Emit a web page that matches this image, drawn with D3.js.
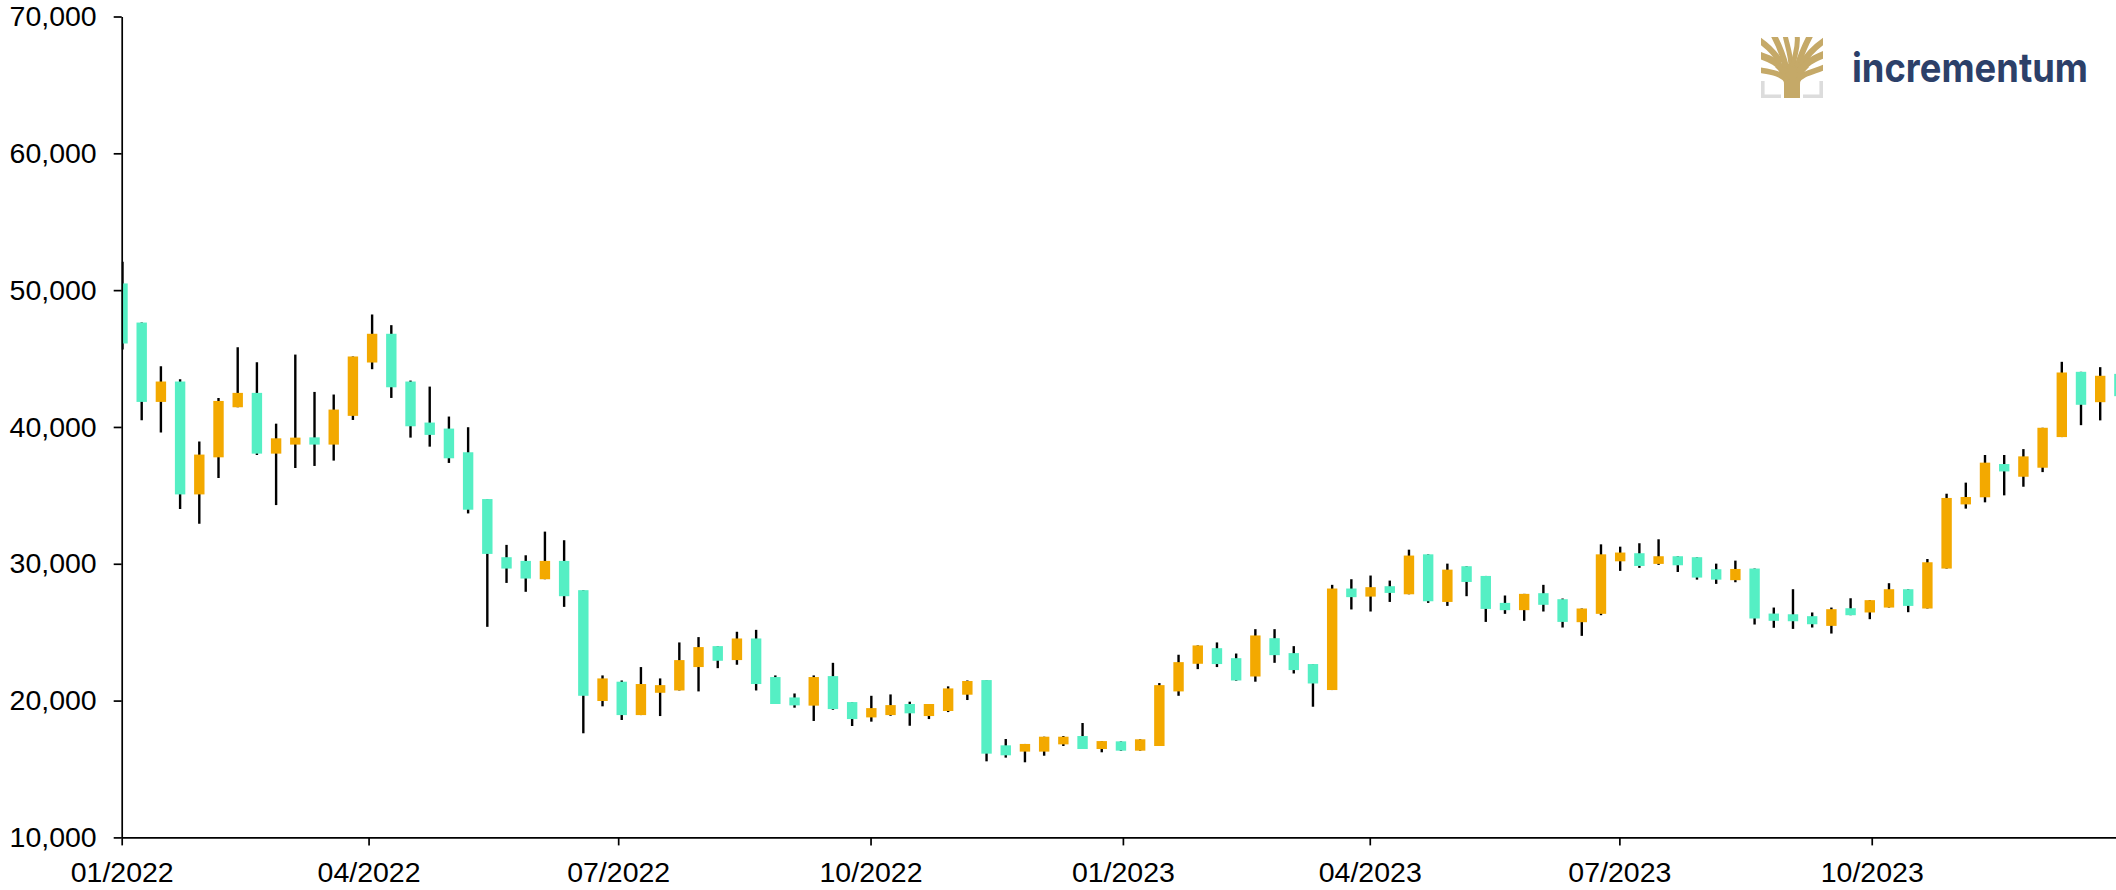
<!DOCTYPE html>
<html>
<head>
<meta charset="utf-8">
<title>Candlestick chart</title>
<script src="https://cdn.jsdelivr.net/npm/d3@7"></script>
<style>
  html, body { margin: 0; padding: 0; background: #fff; overflow: hidden; }
  text { font-family: "Liberation Sans", Arial, sans-serif; fill: #000; }
</style>
</head>
<body>
<div id="chart"></div>
<script>
// weekly candles, values
const opens = [
  50490, 47630, 41830, 43320, 35070, 37780, 41440, 42490, 38050, 38710,
  39240, 38710, 40810, 44710, 46810, 43320, 40320, 39880, 38150, 34730,
  30480, 30210, 28870, 30210, 28070, 19970, 21380, 18940, 20570, 20740,
  22450, 23980, 22960, 24540, 21720, 20230, 19630, 21790, 19890, 18770,
  18940, 19750, 18870, 19240, 20430, 21500, 16730, 16270, 16270, 16800,
  17410, 16460, 17020, 16340, 16680, 20670, 22690, 23830, 23100, 21760,
  24560, 23470, 22670, 20770, 28190, 27600, 28360, 27770, 30690, 27210,
  29820, 29110, 27140, 26610, 27850, 27410, 25730, 26340, 30180, 30770,
  29990, 30550, 30480, 29600, 28800, 29650, 26360, 26310, 26170, 25460,
  26750, 26440, 26800, 28140, 26730, 29650, 34340, 34860, 37290, 36360,
  37020, 39260, 44030, 41810, 43880
];
const closes = [
  46100, 41830, 43320, 35070, 37980, 41900, 42490, 38050, 39170, 39220,
  38710, 41270, 45150, 46810, 42900, 40050, 39420, 37710, 33950, 30720,
  29650, 28920, 30210, 27630, 20350, 21620, 18940, 21210, 21130, 22960,
  23910, 22910, 24540, 21210, 19750, 19650, 21720, 19380, 18650, 19450,
  19670, 19070, 19750, 20890, 21430, 16120, 16000, 16830, 17360, 17360,
  16460, 17040, 16340, 17170, 21130, 22810, 24030, 22670, 21470, 24760,
  23320, 22230, 21250, 28190, 27560, 28290, 27870, 30600, 27260, 29570,
  28670, 26700, 26610, 27800, 27000, 25750, 26730, 30690, 30820, 29840,
  30550, 29890, 28990, 28840, 29620, 26000, 25830, 25800, 25580, 26680,
  26240, 27340, 28140, 26920, 30110, 34810, 34880, 37390, 36750, 37850,
  39940, 43980, 41620, 43740, 42250
];
const highs = [
  52070, 47630, 44440, 43490, 38930, 42120, 45830, 44730, 40240, 45290,
  42560, 42370, 45150, 48220, 47440, 43390, 42950, 40760, 39980, 34730,
  31380, 30620, 32350, 31720, 28070, 21840, 21470, 22450, 21620, 24250,
  24640, 23980, 25030, 25170, 21840, 20520, 21840, 22760, 19890, 20350,
  20450, 19920, 19750, 21040, 21470, 21500, 17190, 16830, 17360, 17410,
  18360, 17040, 17020, 17170, 21280, 23350, 24030, 24250, 23440, 25220,
  25220, 23980, 22670, 28460, 28870, 29140, 28770, 31030, 30690, 30010,
  29820, 29110, 27680, 27800, 28460, 27460, 26730, 31420, 31250, 31500,
  31790, 30550, 30480, 30010, 30230, 29650, 26800, 28140, 26440, 26800,
  27480, 27340, 28580, 28140, 30350, 35120, 35930, 37950, 37950, 38380,
  39940, 44760, 44030, 44370, 43880
];
const lows = [
  45660, 40490, 39590, 34000, 32930, 36270, 41440, 37950, 34290, 37000,
  37150, 37540, 40510, 44220, 42120, 39220, 38560, 37370, 33680, 25390,
  28600, 27950, 28870, 26850, 17610, 19580, 18580, 18940, 18870, 20740,
  20670, 22370, 22620, 20740, 19750, 19480, 18510, 19330, 18140, 18460,
  18890, 18160, 18650, 19160, 20040, 15560, 15830, 15490, 15970, 16680,
  16460, 16220, 16320, 16340, 16680, 20350, 22300, 22450, 21450, 21380,
  22760, 21980, 19550, 20770, 26660, 26510, 27210, 27770, 27140, 26920,
  27630, 25750, 26340, 25830, 26510, 25340, 24730, 26240, 29480, 29700,
  29920, 29400, 28840, 28530, 28650, 25560, 25320, 25240, 25340, 24900,
  26240, 25950, 26800, 26460, 26730, 29650, 34030, 34490, 35000, 35630,
  36700, 39260, 40130, 40480, 42250
];
const yTicks = [10000, 20000, 30000, 40000, 50000, 60000, 70000];
const xTicks = ['2022-01-01', '2022-04-01', '2022-07-01', '2022-10-01', '2023-01-01', '2023-04-01', '2023-07-01', '2023-10-01'];

const width = 2116;
const height = 890;
const left = 121.7;
const top_ = 16.5;
const bottom = 837.4;
const candleShift = 0.8;
const green = '#55efc4';
const orange = '#f3a900';

const parseDay = d3.utcParse('%Y-%m-%d');
const firstDay = parseDay(xTicks[0]);
const weeks = d3.utcDay.range(firstDay, parseDay('2024-01-08'), 7);

const x = d3.scaleUtc()
  .domain([firstDay, parseDay('2024-01-01')])
  .range([left, left + 2.743 * 730]);
const y = d3.scaleLinear()
  .domain([10000, 70000])
  .range([bottom, top_]);

const svg = d3.select('#chart')
  .append('svg')
  .attr('width', width)
  .attr('height', height)
  .style('display', 'block');

svg.append('clipPath')
  .attr('id', 'plot')
  .append('rect')
  .attr('x', left)
  .attr('y', 0)
  .attr('width', width - left)
  .attr('height', height);

const candles = svg.append('g')
  .attr('clip-path', 'url(#plot)')
  .selectAll('g')
  .data(weeks)
  .enter()
  .append('g');

// wicks first, the bodies sit on top
candles.append('line')
  .attr('x1', d => x(d) + candleShift)
  .attr('x2', d => x(d) + candleShift)
  .attr('y1', (d, i) => y(highs[i]))
  .attr('y2', (d, i) => y(lows[i]))
  .attr('stroke', '#000')
  .attr('stroke-width', 2.4);

candles.append('rect')
  .attr('x', d => x(d) + candleShift - 5.2)
  .attr('width', 10.4)
  .attr('y', (d, i) => y(Math.max(opens[i], closes[i])))
  .attr('height', (d, i) => Math.abs(y(opens[i]) - y(closes[i])))
  .attr('fill', (d, i) => closes[i] < opens[i] ? green : orange);

// axes
svg.append('g')
  .attr('transform', `translate(${left},0)`)
  .call(d3.axisLeft(y).tickValues(yTicks).tickFormat(d3.format(',')).tickSize(8).tickSizeOuter(0).tickPadding(17));

svg.append('g')
  .attr('transform', `translate(0,${bottom})`)
  .call(d3.axisBottom(x).tickValues(xTicks.map(parseDay)).tickFormat(d3.utcFormat('%m/%Y')).tickSize(8).tickSizeOuter(0).tickPadding(16));

svg.selectAll('.domain, .tick line').attr('stroke', '#000').attr('stroke-width', 1.7);
svg.selectAll('.tick text').attr('font-size', 28.5).style('font-family', '"Liberation Sans", Arial, sans-serif').attr('fill', '#000');

// logo
const logo = svg.append('g').attr('transform', 'translate(1761,37)');
logo.append('clipPath').attr('id', 'logoClip').append('rect').attr('width', 62).attr('height', 61);

const tree = logo.append('g').attr('clip-path', 'url(#logoClip)');
tree.append('path')
  .attr('d', 'M23 61 L23 48 C23 40 20 36 14 30 L31 26 L48 30 C42 36 39 40 39 48 L39 61 Z')
  .attr('fill', '#c5a968');
const branches = [
  ['M26 44 C20 36 10 35 -2 33', 5.5],
  ['M25 36 C18 26 10 22 -2 18', 7],
  ['M20 26 C14 16 8 10 -2 3', 6],
  ['M25 30 C22 18 18 8 12 -3', 6],
  ['M30 30 C30 18 26 8 24 -2', 5],
  ['M32 30 C33 18 38 10 36 -2', 5],
  ['M36 30 C40 18 44 8 50 -3', 6],
  ['M40 28 C46 18 54 10 64 3', 6],
  ['M37 36 C44 26 52 22 64 17', 7],
  ['M36 44 C42 36 52 35 64 30', 5.5]
];
tree.selectAll('.branch')
  .data(branches)
  .enter()
  .append('path')
  .attr('class', 'branch')
  .attr('d', d => d[0])
  .attr('stroke-width', d => d[1])
  .attr('fill', 'none')
  .attr('stroke', '#c5a968');

logo.append('path').attr('d', 'M1.8 44 V59.2 H20').attr('fill', 'none').attr('stroke', '#dcdcdc').attr('stroke-width', 3.6);
logo.append('path').attr('d', 'M60.2 44 V59.2 H42').attr('fill', 'none').attr('stroke', '#dcdcdc').attr('stroke-width', 3.6);

svg.append('text')
  .attr('x', 1852)
  .attr('y', 82)
  .attr('textLength', 236)
  .attr('lengthAdjust', 'spacingAndGlyphs')
  .style('font-family', 'Inter, sans-serif')
  .style('font-weight', 700)
  .style('font-size', '40px')
  .style('fill', '#2c4069')
  .text('incrementum');
</script>
</body>
</html>
